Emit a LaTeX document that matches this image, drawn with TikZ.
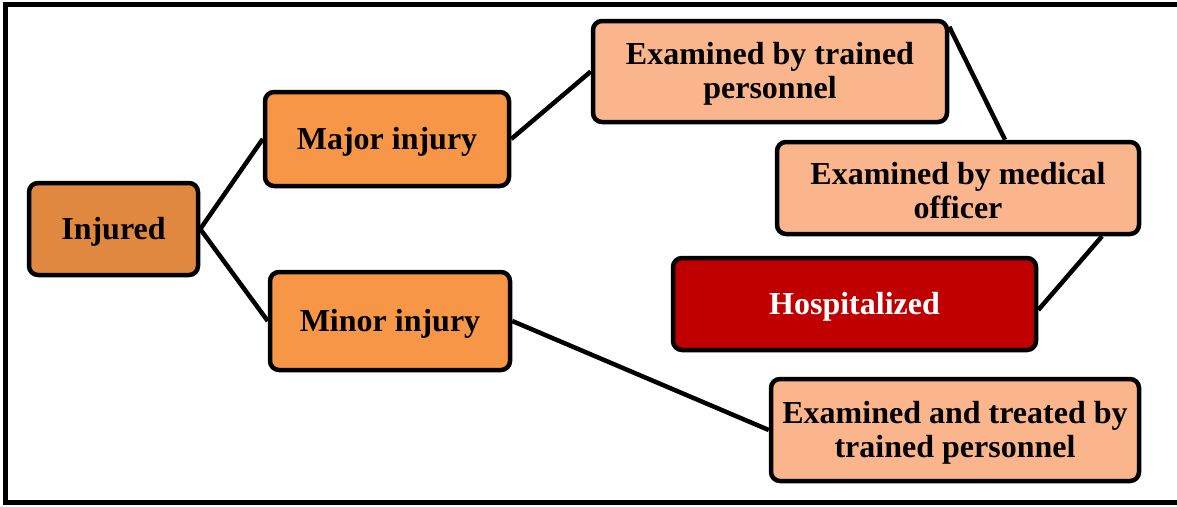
\documentclass[tikz,border=0pt]{standalone}
\usepackage{fontspec}
\setmainfont{Liberation Serif}
\definecolor{injc}{HTML}{E0883F}
\definecolor{midc}{HTML}{F79646}
\definecolor{lightc}{HTML}{FAB58D}
\definecolor{hospc}{HTML}{C00000}
\begin{document}
\begin{tikzpicture}[x=1pt,y=-1pt,
  box/.style={draw=black, line width=4.5pt, rounded corners=9pt, inner sep=0pt},
  tx/.style={align=center, font=\fontsize{32}{34}\selectfont\bfseries, inner sep=0pt, yshift=-2.5pt},
  conn/.style={line width=4.5pt}]
\useasboundingbox (0,0) rectangle (1177,506);
\draw[line width=5pt] (1200,4.5) -- (5.5,4.5) -- (5.5,502.5) -- (1200,502.5);
\node[box, fill=injc, minimum width=169pt, minimum height=92pt,
  label={[tx]center:Injured}] (inj) at (113.5,229) {};
\node[box, fill=midc, minimum width=244pt, minimum height=94pt,
  label={[tx]center:Major injury}] (maj) at (387,139) {};
\node[box, fill=midc, minimum width=240pt, minimum height=98pt,
  label={[tx]center:Minor injury}] (min) at (390,321) {};
\node[box, fill=lightc, minimum width=354pt, minimum height=101pt,
  label={[tx]center:Examined by trained\\personnel}] (etp) at (770,71.5) {};
\node[box, fill=lightc, minimum width=362pt, minimum height=92pt,
  label={[tx]center:Examined by medical\\officer}] (emo) at (958,188) {};
\node[box, fill=hospc, minimum width=363pt, minimum height=92pt,
  label={[tx,text=white]center:Hospitalized}] (hos) at (854.5,304) {};
\node[box, fill=lightc, minimum width=368pt, minimum height=102pt,
  label={[tx]center:Examined and treated by\\trained personnel}] (ett) at (955,430) {};
\draw[conn] (inj.east) -- (maj.west);
\draw[conn] (inj.east) -- (min.west);
\draw[conn] (maj.east) -- (etp.west);
\draw[conn] ([yshift=-8pt]etp.north east) -- ([xshift=47pt]emo.north);
\draw[conn] ([xshift=144pt]emo.south) -- ([yshift=-6pt]hos.east);
\draw[conn] (min.east) -- (ett.west);
\end{tikzpicture}
\end{document}
